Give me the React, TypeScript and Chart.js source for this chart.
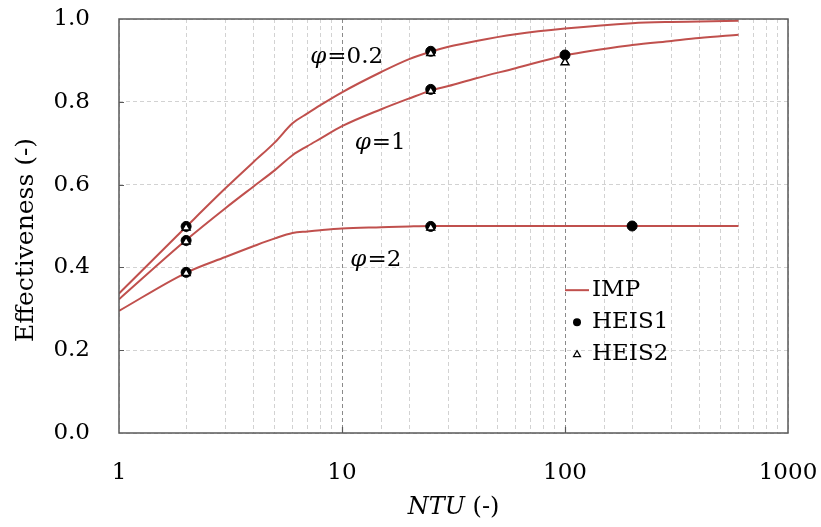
import React, { useEffect, useRef } from "react";
import { Chart, registerables } from "chart.js";

Chart.register(...registerables);

// ---- data ----
const ntu = [1, 2, 3, 4, 5, 6, 7, 8, 10, 15, 20, 25, 30, 40, 60, 100, 200, 300, 400, 600];
const impPhi02 = [0.337, 0.498, 0.591, 0.654, 0.702, 0.748, 0.772, 0.792, 0.823, 0.872, 0.903, 0.921, 0.933, 0.947, 0.963, 0.977, 0.99, 0.993, 0.994, 0.996];
const impPhi1 = [0.323, 0.466, 0.543, 0.595, 0.635, 0.671, 0.693, 0.711, 0.741, 0.782, 0.808, 0.827, 0.838, 0.857, 0.881, 0.912, 0.937, 0.947, 0.954, 0.962];
const impPhi2 = [0.295, 0.387, 0.425, 0.451, 0.47, 0.483, 0.487, 0.49, 0.494, 0.497, 0.499, 0.5, 0.5, 0.5, 0.5, 0.5, 0.5, 0.5, 0.5, 0.5];

const heis1Ntu = [2, 2, 2, 25, 25, 25, 100, 200];
const heis1Eff = [0.499, 0.465, 0.388, 0.922, 0.83, 0.499, 0.913, 0.5];
const heis2Ntu = [2, 2, 2, 25, 25, 25, 100];
const heis2Eff = [0.496, 0.462, 0.386, 0.917, 0.826, 0.496, 0.895];

const xTickLabels = [1, 10, 100, 1000];
const phiLabels = ["0.2", "1", "2"];
const phiLabelNtu = [7.2, 11.4, 10.9];
const phiLabelEff = [0.908, 0.7, 0.418];
const legendLabels = ["IMP", "HEIS1", "HEIS2"];

const RED = "#C0504D";
const FONT = '"DejaVu Serif", serif';
const FS = 23;

const pts = (xs: number[], ys: number[]) => xs.map((x, i) => ({ x, y: ys[i] }));

const zeroPad = (s: any) => {
  s.paddingTop = 0;
  s.paddingBottom = 0;
  s.paddingLeft = 0;
  s.paddingRight = 0;
};

const decorPlugin = {
  id: "decor",
  afterDatasetsDraw(chart: any) {
    const { ctx, chartArea: a, scales } = chart;
    const xs = scales.x;
    const ys = scales.y;
    ctx.save();
    ctx.strokeStyle = "#595959";
    ctx.lineWidth = 1.2;
    ctx.beginPath();
    [0.2, 0.4, 0.6, 0.8].forEach((v) => {
      const y = Math.round(ys.getPixelForValue(v)) + 0.5;
      ctx.moveTo(a.left, y);
      ctx.lineTo(a.left + 5, y);
    });
    [10, 100].forEach((v) => {
      const x = Math.round(xs.getPixelForValue(v)) + 0.5;
      ctx.moveTo(x, a.bottom);
      ctx.lineTo(x, a.bottom - 6);
    });
    ctx.stroke();
    ctx.strokeStyle = "#595959";
    ctx.lineWidth = 1.5;
    ctx.strokeRect(a.left, a.top, a.right - a.left, a.bottom - a.top);
    ctx.restore();
  },
  afterDraw(chart: any) {
    const { ctx, scales } = chart;
    const xs = scales.x;
    const ys = scales.y;
    ctx.save();
    ctx.fillStyle = "#000";
    ctx.textBaseline = "middle";

    phiLabels.forEach((t, i) => {
      const x = xs.getPixelForValue(phiLabelNtu[i]);
      const y = ys.getPixelForValue(phiLabelEff[i]);
      ctx.textAlign = "left";
      ctx.font = `italic ${FS}px ${FONT}`;
      ctx.fillText("\u03C6", x, y);
      const w = ctx.measureText("\u03C6").width;
      ctx.font = `${FS}px ${FONT}`;
      ctx.fillText("=" + t, x + w + 1, y);
    });

    ctx.font = `italic 24px ${FONT}`;
    const w1 = ctx.measureText("NTU").width;
    ctx.font = `24px ${FONT}`;
    const w2 = ctx.measureText(" (-)").width;
    const cx = (chart.chartArea.left + chart.chartArea.right) / 2;
    const sx = cx - (w1 + w2) / 2;
    ctx.textAlign = "left";
    ctx.font = `italic 24px ${FONT}`;
    ctx.fillText("NTU", sx, 508);
    ctx.font = `24px ${FONT}`;
    ctx.fillText(" (-)", sx + w1, 508);

    ctx.save();
    ctx.translate(26, 240);
    ctx.rotate(-Math.PI / 2);
    ctx.textAlign = "center";
    ctx.font = `25px ${FONT}`;
    ctx.fillText("Effectiveness (-)", 0, 0);
    ctx.restore();

    const lx = xs.getPixelForValue(100);
    const ly0 = ys.getPixelForValue(0.345);
    const rowH = 32;
    ctx.font = `${FS}px ${FONT}`;
    ctx.textAlign = "left";
    legendLabels.forEach((t, i) => {
      const y = ly0 + i * rowH;
      if (i === 0) {
        ctx.strokeStyle = RED;
        ctx.lineWidth = 2;
        ctx.beginPath();
        ctx.moveTo(lx, y);
        ctx.lineTo(lx + 24, y);
        ctx.stroke();
      } else if (i === 1) {
        ctx.beginPath();
        ctx.arc(lx + 12, y, 4, 0, Math.PI * 2);
        ctx.fillStyle = "#000";
        ctx.fill();
      } else {
        ctx.beginPath();
        ctx.moveTo(lx + 12, y - 3.5);
        ctx.lineTo(lx + 15.5, y + 2.5);
        ctx.lineTo(lx + 8.5, y + 2.5);
        ctx.closePath();
        ctx.strokeStyle = "#000";
        ctx.lineWidth = 1.2;
        ctx.stroke();
      }
      ctx.fillStyle = "#000";
      ctx.fillText(t, lx + 27, y);
    });
    ctx.restore();
  },
};

export default function App() {
  const ref = useRef<HTMLCanvasElement>(null);
  useEffect(() => {
    const canvas = ref.current!;
    const line = (label: string, ys: number[]) => ({
      label,
      data: pts(ntu, ys),
      borderColor: RED,
      backgroundColor: RED,
      borderWidth: 2,
      pointRadius: 0,
      cubicInterpolationMode: "monotone",
      fill: false,
      order: 3,
    });
    const chart = new Chart(canvas, {
      type: "line",
      data: {
        datasets: [
          {
            label: "HEIS2",
            data: pts(heis2Ntu, heis2Eff),
            showLine: false,
            pointStyle: "triangle",
            pointRadius: 4.5,
            pointBackgroundColor: "#fff",
            pointBorderColor: "#000",
            pointBorderWidth: 1.5,
            order: 1,
          },
          {
            label: "HEIS1",
            data: pts(heis1Ntu, heis1Eff),
            showLine: false,
            pointStyle: "circle",
            pointRadius: 5,
            pointBackgroundColor: "#000",
            pointBorderColor: "#000",
            pointBorderWidth: 1,
            order: 2,
          },
          line("IMP φ=0.2", impPhi02),
          line("IMP φ=1", impPhi1),
          line("IMP φ=2", impPhi2),
        ] as any,
      },
      options: {
        animation: false,
        responsive: true,
        maintainAspectRatio: false,
        layout: { padding: { top: 19, right: 33, left: 0, bottom: 0 } },
        plugins: { legend: { display: false }, tooltip: { enabled: false } },
        scales: {
          x: {
            type: "logarithmic",
            min: 1,
            max: 1000,
            afterFit: (s: any) => {
              s.height = 94;
              zeroPad(s);
            },
            grid: {
              drawTicks: false,
              lineWidth: 1,
              color: (c: any) => {
                const v = c.tick ? c.tick.value : 0;
                return v === 10 || v === 100 ? "#8a8a8a" : "#d2d2d2";
              },
            },
            border: { display: false, dash: [4, 3] },
            ticks: {
              autoSkip: false,
              maxRotation: 0,
              padding: 26,
              color: "#000",
              font: { family: FONT, size: FS },
              callback: (v: any) => (xTickLabels.includes(Number(v)) ? String(v) : ""),
            },
          },
          y: {
            min: 0,
            max: 1,
            afterFit: (s: any) => {
              s.width = 119;
              zeroPad(s);
            },
            grid: { drawTicks: false, lineWidth: 1, color: "#d2d2d2" },
            border: { display: false, dash: [4, 3] },
            ticks: {
              stepSize: 0.2,
              padding: 29,
              color: "#000",
              font: { family: FONT, size: FS },
              callback: (v: any) => Number(v).toFixed(1),
            },
          },
        },
      } as any,
      plugins: [decorPlugin],
    });
    return () => chart.destroy();
  }, []);
  return (
    <div style={{ position: "fixed", left: 0, top: 0, width: 821, height: 527, background: "#fff" }}>
      <canvas ref={ref} />
    </div>
  );
}
